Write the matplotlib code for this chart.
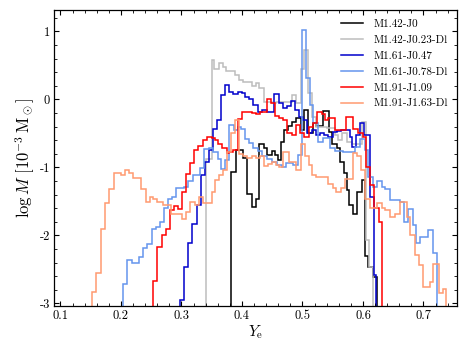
import matplotlib
matplotlib.use("Agg")
import matplotlib.pyplot as plt
from matplotlib.ticker import MultipleLocator

plt.rcParams['font.family'] = 'serif'
plt.rcParams['font.serif'] = ['cmr10', 'DejaVu Serif']
plt.rcParams['mathtext.fontset'] = 'cm'
plt.rcParams['axes.unicode_minus'] = False
plt.rcParams['axes.formatter.use_mathtext'] = False

# histogram bin edges (Ye) and log mass per bin
labels = ['M1.42-J0', 'M1.42-J0.23-Dl', 'M1.61-J0.47',
          'M1.61-J0.78-Dl', 'M1.91-J1.09', 'M1.91-J1.63-Dl']
colors = ['black', '#bdbdbd', '#0000cc', '#6495ed', '#ff0000', '#ff9a70']

edges_a = [0.3823, 0.3895, 0.4022, 0.4088, 0.416, 0.4226, 0.4286, 0.4358, 0.4413, 0.449,
           0.4545, 0.460, 0.464, 0.4694, 0.4766, 0.4821, 0.4893, 0.497, 0.5025, 0.5097,
           0.517, 0.5223, 0.5344, 0.5443, 0.5482, 0.5565, 0.562, 0.5686, 0.573, 0.5774,
           0.584, 0.5906, 0.5978, 0.6033, 0.6088, 0.617, 0.6226]
logm_a = [-1.07, -0.74, -0.87, -1.39, -1.59, -1.47, -0.66, -0.71, -0.82, -0.76,
          -0.82, -0.89, -0.63, -0.45, -0.39, -0.33, -0.28, -0.45, -0.16, -0.50,
          -0.35, -0.39, -0.17, -0.48, -0.65, -0.72, -0.92, -1.09, -1.33, -1.55,
          -1.68, -1.36, -1.19, -2.31, -2.46, -2.61]

edges_b = [0.3405, 0.350, 0.3542, 0.3625, 0.368, 0.3736, 0.3884, 0.3956, 0.4022, 0.4088,
           0.416, 0.4226, 0.4286, 0.4364, 0.449, 0.456, 0.4821, 0.4893, 0.497, 0.5025,
           0.5097, 0.5152, 0.5223, 0.540, 0.5537, 0.5592, 0.5647, 0.573, 0.5823, 0.5978,
           0.6044, 0.610, 0.617]
logm_b = [-0.88, 0.58, 0.45, 0.54, 0.48, 0.42, 0.36, 0.28, 0.25, 0.26,
          0.20, 0.24, 0.17, -0.04, -0.06, -0.04, 0.07, -0.05, 0.44, 0.73,
          0.10, -0.26, -0.40, -0.42, -0.53, -0.60, -0.50, -0.62, -0.65, -0.33,
          -2.07, -2.46]

edges_c = [0.2975, 0.3047, 0.3116, 0.3182, 0.3251, 0.3317, 0.3385, 0.345, 0.3516, 0.3592,
           0.3648, 0.3719, 0.3785, 0.3857, 0.393, 0.3995, 0.405, 0.4116, 0.4187, 0.426,
           0.4325, 0.4408, 0.4535, 0.4606, 0.467, 0.4738, 0.481, 0.4876, 0.4947, 0.5003,
           0.508, 0.515, 0.522, 0.529, 0.536, 0.543, 0.550, 0.557, 0.564, 0.5785,
           0.5823, 0.5879, 0.595, 0.6022, 0.6116, 0.6187, 0.6215]
logm_c = [-2.95, -2.47, -2.11, -1.84, -1.55, -1.12, -0.92, -0.75, -0.43, -0.31,
          0.06, 0.21, 0.11, 0.08, 0.11, 0.09, 0.03, 0.00, -0.08, -0.18,
          -0.16, -0.18, 0.08, -0.05, -0.12, -0.10, -0.03, -0.15, -0.26, -0.30,
          -0.50, -0.45, -0.52, -0.50, -0.52, -0.55, -0.48, -0.47, -0.45, -0.55,
          -0.70, -0.53, -0.35, -0.52, -1.43, -2.58]

edges_d = [0.204, 0.2105, 0.218, 0.229, 0.236, 0.2425, 0.251, 0.258, 0.2645, 0.271,
           0.278, 0.285, 0.291, 0.304, 0.311, 0.3195, 0.331, 0.337, 0.345, 0.352,
           0.360, 0.365, 0.372, 0.379, 0.386, 0.393, 0.398, 0.405, 0.412, 0.419,
           0.426, 0.433, 0.441, 0.449, 0.458, 0.466, 0.473, 0.485, 0.493, 0.499,
           0.506, 0.512, 0.518, 0.526, 0.534, 0.5455, 0.5537, 0.5675, 0.587, 0.595,
           0.603, 0.609, 0.617, 0.624, 0.631, 0.636, 0.645, 0.661, 0.668, 0.675,
           0.682, 0.688, 0.695, 0.708, 0.715, 0.723]
logm_d = [-2.72, -2.36, -2.41, -2.32, -2.18, -2.13, -1.91, -1.88, -1.80, -1.60,
          -1.47, -1.43, -1.31, -1.29, -1.20, -1.11, -1.01, -0.73, -0.71, -0.77,
          -0.88, -1.03, -0.89, -0.38, -0.45, -0.40, -0.43, -0.59, -0.64, -0.72,
          -0.76, -0.84, -0.88, -0.92, -0.97, -0.99, -0.94, -0.97, -0.82, 1.02,
          0.31, -0.08, -0.35, -0.62, -0.57, -0.72, -0.76, -0.77, -0.70, -0.58,
          -0.75, -1.14, -1.29, -1.20, -1.29, -1.32, -1.48, -1.51, -1.80, -1.62,
          -1.85, -2.11, -2.03, -1.92, -2.26]

edges_e = [0.2534, 0.260, 0.2672, 0.2744, 0.281, 0.2876, 0.2947, 0.3014, 0.3074, 0.314,
           0.3212, 0.3278, 0.336, 0.3427, 0.350, 0.3554, 0.3609, 0.3675, 0.3747, 0.3785,
           0.3857, 0.393, 0.3995, 0.416, 0.4226, 0.4297, 0.4352, 0.4408, 0.4474, 0.4545,
           0.4612, 0.4683, 0.4749, 0.4821, 0.4893, 0.4959, 0.5025, 0.5113, 0.518, 0.5245,
           0.5318, 0.5372, 0.5427, 0.5537, 0.5719, 0.584, 0.5923, 0.5995, 0.605, 0.612,
           0.619, 0.626, 0.631]
logm_e = [-2.67, -2.17, -2.00, -1.90, -1.63, -1.57, -1.62, -1.37, -1.10, -0.93,
          -0.75, -0.69, -0.60, -0.55, -0.57, -0.60, -0.65, -0.72, -0.79, -0.77,
          -0.75, -0.29, -0.18, -0.20, -0.22, -0.18, -0.18, 0.01, -0.05, -0.25,
          -0.28, -0.30, -0.50, -0.53, -0.38, -0.50, -0.56, -0.40, -0.35, -0.18,
          -0.22, -0.30, -0.28, -0.45, -0.26, -0.44, -0.50, -0.55, -1.00, -1.26,
          -1.60, -1.80]

edges_f = [0.152, 0.159, 0.167, 0.174, 0.181, 0.188, 0.200, 0.207, 0.213, 0.220,
           0.233, 0.241, 0.248, 0.253, 0.260, 0.269, 0.282, 0.301, 0.307, 0.314,
           0.322, 0.329, 0.336, 0.350, 0.355, 0.362, 0.368, 0.376, 0.382, 0.389,
           0.395, 0.402, 0.409, 0.416, 0.423, 0.430, 0.436, 0.443, 0.450, 0.457,
           0.462, 0.467, 0.477, 0.489, 0.497, 0.504, 0.510, 0.516, 0.522, 0.543,
           0.550, 0.556, 0.563, 0.570, 0.584, 0.590, 0.597, 0.603, 0.612, 0.624,
           0.631, 0.636, 0.645, 0.653, 0.661, 0.672, 0.678, 0.686, 0.692, 0.699,
           0.711, 0.716, 0.725, 0.733, 0.737]
logm_f = [-2.84, -2.56, -1.90, -1.52, -1.32, -1.09, -1.12, -1.04, -1.08, -1.16,
          -1.32, -1.51, -1.44, -1.47, -1.51, -1.56, -1.68, -1.76, -1.65, -1.51,
          -1.56, -1.43, -1.52, -1.36, -1.19, -1.11, -1.04, -0.77, -0.50, -0.30,
          -0.80, -0.84, -0.86, -0.84, -0.86, -0.84, -0.98, -0.95, -0.92, -0.96,
          -0.99, -0.77, -0.92, -1.04, -0.65, -0.84, -0.97, -1.11, -1.14, -1.24,
          -1.31, -1.36, -1.31, -1.17, -0.79, -0.84, -1.04, -1.46, -1.60, -1.53,
          -1.60, -1.63, -1.73, -1.68, -1.51, -1.73, -2.00, -2.29, -2.44, -2.76,
          -2.68, -2.42, -2.85, -2.79]

all_edges = [edges_a, edges_b, edges_c, edges_d, edges_e, edges_f]
all_logm = [logm_a, logm_b, logm_c, logm_d, logm_e, logm_f]

fig = plt.figure(figsize=(4.71, 3.41), dpi=100)
ax = fig.add_axes([0.1153, 0.1026, 0.8543, 0.8672])

for edges, logm, color, label in zip(all_edges, all_logm, colors, labels):
    ax.stairs(logm, edges, baseline=-5, color=color, lw=1.1, label=label)

ax.set_xlim(0.0898, 0.7549)
ax.set_ylim(-3.04, 1.31)
ax.xaxis.set_major_locator(MultipleLocator(0.1))
ax.xaxis.set_minor_locator(MultipleLocator(0.02))
ax.yaxis.set_major_locator(MultipleLocator(1))
ax.yaxis.set_minor_locator(MultipleLocator(0.2))
ax.tick_params(which='both', direction='in', top=True, right=True, labelsize=9)
ax.tick_params(which='major', length=3.8, width=0.8, pad=3)
ax.tick_params(which='minor', length=2.0, width=0.6)
for sp in ax.spines.values():
    sp.set_linewidth(0.9)

ax.set_xlabel(r'$Y_\mathrm{e}$', fontsize=11, labelpad=1)
ax.set_ylabel(r'$\log M\ [10^{-3}\,\mathrm{M}_\odot]$', fontsize=12, labelpad=2)

handles = [plt.Line2D([], [], color=c, lw=1.1) for c in colors]
ax.legend(handles, labels, loc='upper right', frameon=False, fontsize=8,
          handlelength=2.0, handletextpad=0.9, labelspacing=0.55,
          borderaxespad=0.4)

fig.savefig('out.png', dpi=100)
